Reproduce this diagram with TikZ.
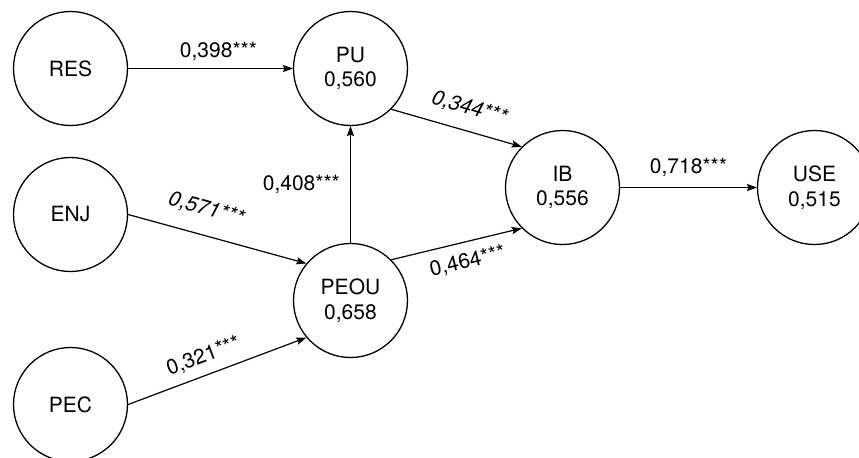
\documentclass[tikz,border=0pt]{standalone}
\usepackage{fontspec}
\setmainfont{TeX Gyre Heros}
\usetikzlibrary{positioning,arrows.meta}

\begin{document}
\begin{tikzpicture}[
  x=0.5pt, y=-0.5pt,
  every node/.style={font=\fontsize{10.5}{12.2}\selectfont},
  construct/.style={draw, circle, minimum size=57pt, inner sep=0pt, align=center, line width=0.65pt},
  coef/.style={inner sep=1pt},
  arr/.style={-{Stealth[length=5pt,width=3.6pt,inset=0.8pt]}, line width=0.6pt}
]
\useasboundingbox (0,0) rectangle (859,457);

\node[construct] (res)  at (70.5,68.5)   {RES};
\node[construct] (enj)  at (70.5,214.5)  {ENJ};
\node[construct] (pec)  at (70.5,404.5)  {PEC};
\node[construct] (pu)   at (350.5,68.5)  {PU\\0,560};
\node[construct] (peou) at (350.5,300.5) {PEOU\\0,658};
\node[construct] (ib)   at (562.5,187.5) {IB\\0,556};
\node[construct] (use)  at (814.5,187.5) {USE\\0,515};

\draw[arr] (res) -- node[coef, above=2.5pt, xshift=4pt] {0,398***} (pu);
\draw[arr] (peou) -- node[coef, left=4pt] {0,408***} (pu);
\draw[arr] (enj.east) -- node[coef, above=7pt, sloped, pos=0.4] {\itshape 0,571***} (peou.140);
\draw[arr] (pec.east) -- node[coef, above=3.5pt, sloped, pos=0.46] {0,321***} (peou.220);
\draw[arr] (pu.south east) -- node[coef, above=5.5pt, sloped, pos=0.55] {\itshape 0,344***} (ib.north west);
\draw[arr] (peou.north east) -- node[coef, below=4pt, sloped, pos=0.55] {0,464***} (ib.south west);
\draw[arr] (ib) -- node[coef, above=4pt] {0,718***} (use);
\end{tikzpicture}
\end{document}
